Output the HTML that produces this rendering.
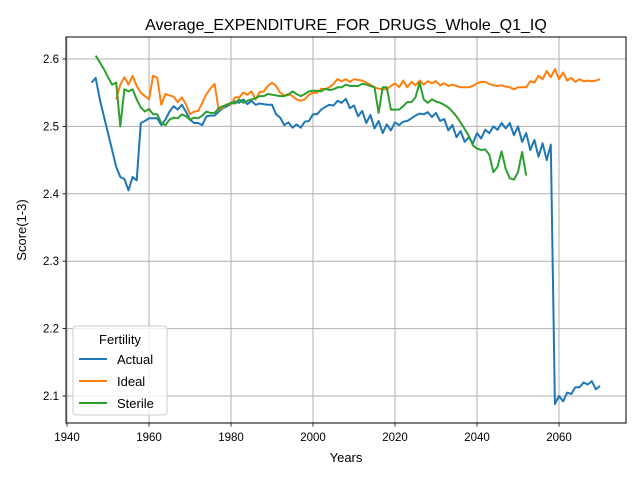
<!DOCTYPE html>
<html><head><meta charset="utf-8"><style>
html,body{margin:0;padding:0;background:#fff}
svg{display:block;font-family:"Liberation Sans","DejaVu Sans",sans-serif}
</style></head><body>
<svg id="chart" width="640" height="480" viewBox="0 0 640 480">
<rect width="640" height="480" fill="#fff"/>
<text x="346" y="30" font-size="16" text-anchor="middle">Average_EXPENDITURE_FOR_DRUGS_Whole_Q1_IQ</text>
<g id="grid"></g>
<g id="series"></g>
<rect x="66" y="37" width="560" height="386" fill="none" stroke="#000" stroke-width="1"/>
<g id="axes"></g>
<text x="346" y="462" font-size="13" text-anchor="middle">Years</text>
<text x="26" y="230" font-size="13" text-anchor="middle" transform="rotate(-90 26 230)">Score(1-3)</text>
<g id="legend">
<rect x="73" y="326" width="94" height="89" rx="3" fill="#fff" fill-opacity="0.8" stroke="#ccc"/>
<text x="120" y="344" font-size="13" text-anchor="middle">Fertility</text>
<line x1="79" y1="359" x2="107" y2="359" stroke="#1f77b4" stroke-width="2"/>
<text x="117" y="364" font-size="13">Actual</text>
<line x1="79" y1="381" x2="107" y2="381" stroke="#ff7f0e" stroke-width="2"/>
<text x="117" y="386" font-size="13">Ideal</text>
<line x1="79" y1="403" x2="107" y2="403" stroke="#2ca02c" stroke-width="2"/>
<text x="117" y="408" font-size="13">Sterile</text>
</g>
</svg>
<script>
const xTicks = [1940,1960,1980,2000,2020,2040,2060];
const yTicks = [2.1,2.2,2.3,2.4,2.5,2.6];
const actualStart = 1946;
const actualValues = [2.565,2.572,2.54,2.515,2.49,2.465,2.44,2.425,2.422,2.405,2.425,2.42,2.505,2.508,2.512,2.512,2.512,2.502,2.51,2.522,2.53,2.525,2.532,2.522,2.51,2.505,2.505,2.502,2.515,2.516,2.516,2.522,2.527,2.53,2.533,2.537,2.535,2.54,2.533,2.538,2.532,2.534,2.533,2.532,2.532,2.518,2.513,2.502,2.506,2.498,2.503,2.498,2.507,2.508,2.518,2.518,2.525,2.529,2.532,2.531,2.538,2.535,2.541,2.527,2.531,2.515,2.523,2.505,2.517,2.497,2.508,2.49,2.503,2.494,2.506,2.502,2.507,2.508,2.512,2.516,2.519,2.518,2.521,2.514,2.52,2.508,2.511,2.494,2.502,2.484,2.493,2.477,2.484,2.475,2.49,2.482,2.495,2.49,2.5,2.495,2.505,2.497,2.505,2.487,2.5,2.477,2.49,2.465,2.48,2.455,2.475,2.45,2.473,2.088,2.1,2.092,2.105,2.103,2.113,2.113,2.12,2.117,2.122,2.11,2.115];
const idealStart = 1952;
const idealValues = [2.54,2.562,2.573,2.562,2.575,2.56,2.55,2.545,2.54,2.575,2.572,2.532,2.548,2.546,2.544,2.536,2.543,2.533,2.518,2.522,2.523,2.535,2.548,2.556,2.563,2.525,2.528,2.533,2.533,2.543,2.543,2.55,2.547,2.552,2.54,2.551,2.552,2.56,2.565,2.56,2.55,2.546,2.548,2.545,2.54,2.538,2.54,2.547,2.55,2.55,2.556,2.555,2.558,2.563,2.57,2.567,2.57,2.566,2.57,2.569,2.568,2.565,2.562,2.558,2.556,2.555,2.555,2.56,2.564,2.558,2.568,2.558,2.566,2.561,2.568,2.562,2.567,2.564,2.567,2.561,2.564,2.56,2.562,2.56,2.558,2.558,2.558,2.56,2.564,2.566,2.566,2.563,2.561,2.56,2.561,2.559,2.558,2.555,2.558,2.558,2.558,2.567,2.565,2.575,2.57,2.582,2.573,2.585,2.57,2.58,2.568,2.572,2.566,2.57,2.567,2.568,2.567,2.568,2.57];
const sterileStart = 1947;
const sterileValues = [2.605,2.595,2.585,2.573,2.562,2.565,2.5,2.555,2.552,2.555,2.54,2.528,2.522,2.526,2.518,2.518,2.505,2.502,2.51,2.513,2.512,2.518,2.515,2.51,2.513,2.512,2.516,2.522,2.52,2.52,2.527,2.53,2.532,2.535,2.534,2.54,2.535,2.538,2.54,2.542,2.545,2.545,2.548,2.547,2.546,2.545,2.545,2.547,2.552,2.548,2.545,2.548,2.552,2.553,2.553,2.552,2.556,2.554,2.555,2.558,2.558,2.562,2.56,2.56,2.56,2.563,2.562,2.56,2.558,2.52,2.558,2.558,2.525,2.525,2.525,2.53,2.536,2.536,2.543,2.565,2.54,2.535,2.54,2.537,2.535,2.532,2.528,2.522,2.515,2.506,2.496,2.486,2.472,2.467,2.465,2.466,2.458,2.432,2.44,2.463,2.437,2.423,2.421,2.432,2.462,2.427];

const NS='http://www.w3.org/2000/svg';
function X(v){return 67 + (v-1940)*(559-67)/120;}
function Y(v){return 396 - (v-2.1)*(396-59)/0.5;}
function mk(tag,attrs,parent){const e=document.createElementNS(NS,tag);for(const k in attrs)e.setAttribute(k,attrs[k]);parent.appendChild(e);return e;}
const grid=document.getElementById('grid'), axes=document.getElementById('axes'), series=document.getElementById('series');
xTicks.forEach(t=>{
  const x=X(t);
  const g=mk('line',{x1:x,y1:37,x2:x,y2:423,stroke:'#b0b0b0','stroke-width':1},grid);
  
  
  const tk=mk('line',{x1:x,y1:423,x2:x,y2:426.5,stroke:'#000','stroke-width':0.8},axes);
  
  
  const lb=mk('text',{x:x,y:441,'font-size':11.5,'text-anchor':'middle'},axes);
  lb.textContent=t;
  
  
});
yTicks.forEach(t=>{
  const y=Y(t);
  const g=mk('line',{x1:66,y1:y,x2:626,y2:y,stroke:'#b0b0b0','stroke-width':1},grid);
  
  
  const tk=mk('line',{x1:62.5,y1:y,x2:66,y2:y,stroke:'#000','stroke-width':0.8},axes);
  
  
  const lb=mk('text',{x:59,y:y+4,'font-size':11.5,'text-anchor':'end'},axes);
  lb.textContent=t.toFixed(1);
  
  
});
function draw(start,vals,color,name){
  const pts=vals.map((v,i)=>X(start+i).toFixed(1)+','+Y(v).toFixed(1)).join(' ');
  const p=mk('polyline',{points:pts,fill:'none',stroke:color,'stroke-width':2,'stroke-linejoin':'round'},series);
  
  
}
draw(actualStart,actualValues,'#1f77b4','actual-line');
draw(idealStart,idealValues,'#ff7f0e','ideal-line');
draw(sterileStart,sterileValues,'#2ca02c','sterile-line');
</script>
</body></html>
